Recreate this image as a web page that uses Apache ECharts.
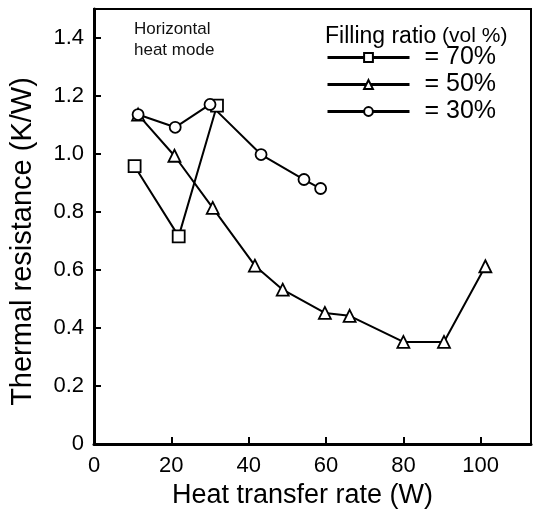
<!DOCTYPE html>
<html>
<head>
<meta charset="utf-8">
<script src="https://cdn.jsdelivr.net/npm/echarts@6/dist/echarts.min.js"></script>
<style>
  html, body { margin: 0; padding: 0; background: #fff; }
  #chart { width: 533px; height: 525px; }
</style>
</head>
<body>
<div id="chart"></div>
<script>
// heat transfer rate (W) and thermal resistance (K/W)
const fill70X = [10.5, 21.9, 31.8]
const fill70Y = [0.958, 0.716, 1.167]
const fill50X = [11.4, 20.8, 30.7, 41.6, 48.8, 59.7, 66.1, 80.0, 90.5, 101.2]
const fill50Y = [1.136, 0.994, 0.814, 0.615, 0.532, 0.452, 0.442, 0.352, 0.352, 0.613]
const fill30X = [11.4, 21.0, 30.0, 43.2, 54.3, 58.6]
const fill30Y = [1.136, 1.092, 1.171, 0.998, 0.912, 0.881]

const seriesNames = ['= 70%', '= 50%', '= 30%']
const xTicks = [0, 20, 40, 60, 80, 100]
const yTicks = ['0', '0.2', '0.4', '0.6', '0.8', '1.0', '1.2', '1.4']

const font = 'Liberation Sans, Arial, sans-serif'
const pairs = (xs, ys) => xs.map((x, i) => [x, ys[i]])

const chart = echarts.init(document.getElementById('chart'))

const mkSeries = (name, xs, ys, symbol, size) => ({
  name,
  type: 'line',
  data: pairs(xs, ys),
  symbol,
  symbolSize: size,
  showAllSymbol: true,
  lineStyle: { color: '#000', width: 2 },
  itemStyle: { color: '#fff', borderColor: '#000', borderWidth: 1.8 },
  emphasis: { disabled: true },
  animation: false
})

chart.setOption({
  backgroundColor: '#fff',
  textStyle: { fontFamily: font },
  grid: {
    left: 93, right: 2, top: 9, bottom: 81,
    show: true, borderColor: '#000', borderWidth: 2
  },
  title: [
    {
      text: 'Horizontal\nheat mode',
      left: 129, top: 14,
      textStyle: { fontFamily: font, fontSize: 17, fontWeight: 'normal', color: '#111', lineHeight: 21 }
    },
    {
      text: '{a|Filling ratio}{b| (vol %)}',
      left: 320, top: 20,
      textStyle: {
        fontWeight: 'normal',
        rich: {
          a: { fontFamily: font, fontSize: 23, fontWeight: 'normal', color: '#000' },
          b: { fontFamily: font, fontSize: 21, fontWeight: 'normal', color: '#000' }
        }
      }
    }
  ],
  legend: {
    data: seriesNames,
    orient: 'vertical',
    left: 321, top: 40,
    itemWidth: 82, itemHeight: 11,
    itemGap: 2,
    selectedMode: false,
    lineStyle: { width: 3 },
    textStyle: { fontFamily: font, fontSize: 25, color: '#000', padding: [0, 0, 0, 10] }
  },
  xAxis: {
    type: 'value',
    min: 0, max: 113, interval: 20,
    name: 'Heat transfer rate (W)',
    nameLocation: 'middle',
    nameGap: 38,
    nameTextStyle: { fontFamily: font, fontSize: 27, color: '#000', padding: [0, 20, 0, 0] },
    axisLine: { lineStyle: { color: '#000', width: 3 } },
    axisTick: { inside: true, length: 7, lineStyle: { color: '#000', width: 2 } },
    axisLabel: {
      margin: 11, fontSize: 22, color: '#000', showMaxLabel: false,
      formatter: v => (xTicks.includes(v) ? String(v) : '')
    },
    splitLine: { show: false }
  },
  yAxis: {
    type: 'value',
    min: 0, max: 1.5, interval: 0.2,
    name: 'Thermal resistance (K/W)',
    nameLocation: 'middle',
    nameGap: 57,
    nameTextStyle: { fontFamily: font, fontSize: 29, color: '#000', padding: [0, 0, 0, -30] },
    axisLine: { lineStyle: { color: '#000', width: 3 } },
    axisTick: { inside: true, length: 7, lineStyle: { color: '#000', width: 2 } },
    axisLabel: {
      margin: 10, fontSize: 22, color: '#000', showMaxLabel: false,
      formatter: v => yTicks[Math.round(v / 0.2)] || ''
    },
    splitLine: { show: false }
  },
  series: [
    mkSeries(seriesNames[0], fill70X, fill70Y, 'rect', 12),
    mkSeries(seriesNames[1], fill50X, fill50Y, 'triangle', 12),
    mkSeries(seriesNames[2], fill30X, fill30Y, 'circle', 11)
  ]
})

window.addEventListener('resize', () => chart.resize())
</script>
</body>
</html>
